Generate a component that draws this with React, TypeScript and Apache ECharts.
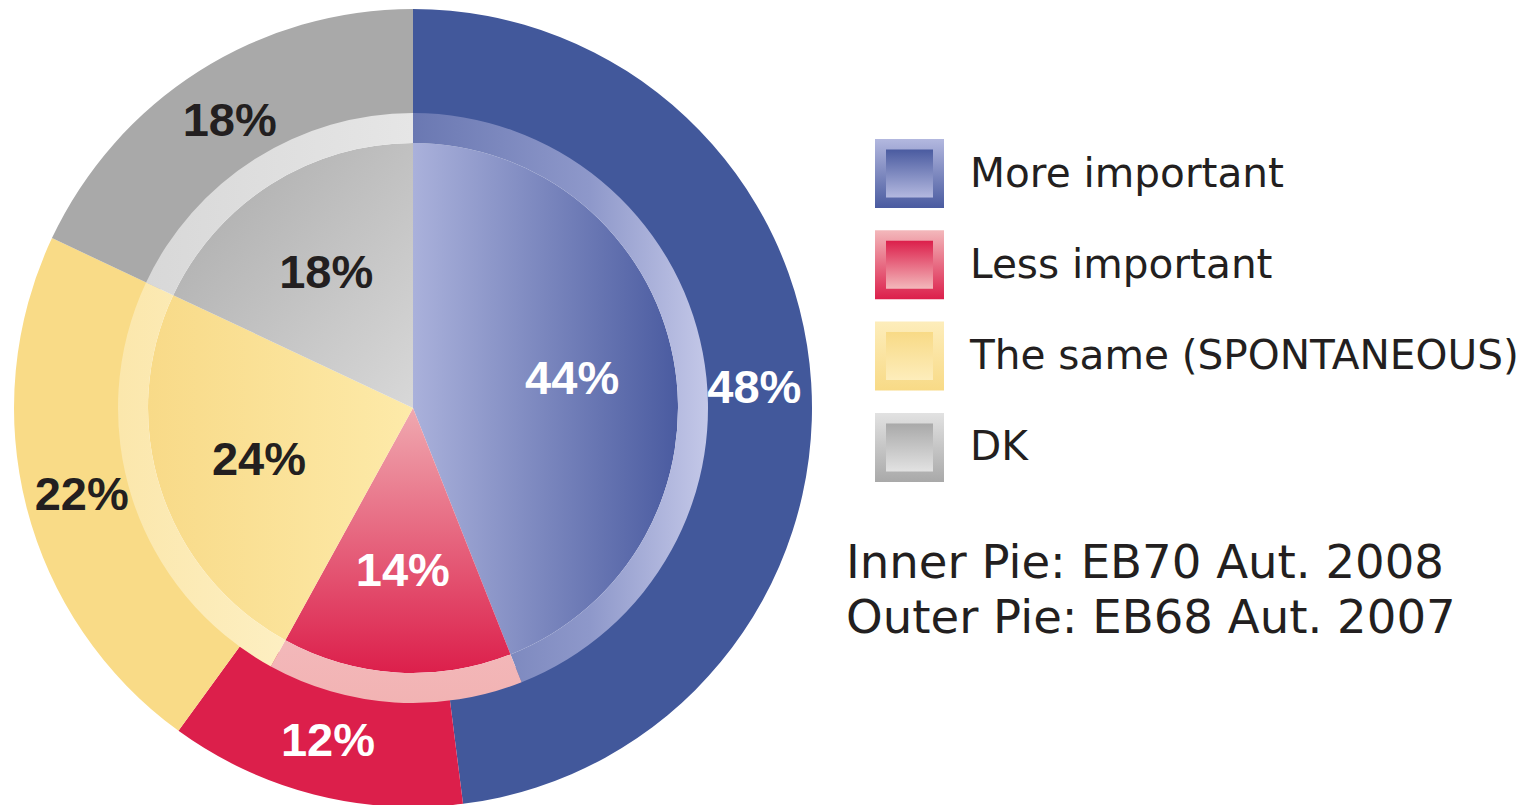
import React, { useEffect, useRef } from "react";
import * as echarts from "echarts";

const categories = ["More important", "Less important", "The same (SPONTANEOUS)", "DK"];
const innerValues = [44, 14, 24, 18]; // EB70 Aut. 2008
const outerValues = [48, 12, 22, 18]; // EB68 Aut. 2007
const noteLines = ["Inner Pie: EB70 Aut. 2008", "Outer Pie: EB68 Aut. 2007"];

const outerColors = ["#42589b", "#dc1f4b", "#f9db87", "#a9a9a9"];
const labelColors = ["#ffffff", "#ffffff", "#231f20", "#231f20"];
const innerLabelColors = ["#ffffff", "#ffffff", "#231f20", "#231f20"];

const lg = (x: number, y: number, x2: number, y2: number, stops: [number, string][]) =>
  new echarts.graphic.LinearGradient(
    x, y, x2, y2,
    stops.map(([offset, color]) => ({ offset, color }))
  );

const innerFills = [
  lg(0, 0, 1, 0, [[0, "#aab1db"], [1, "#4a5ba0"]]),
  lg(0, 0, 0, 1, [[0, "#f0a9b0"], [1, "#dc1f4b"]]),
  lg(0, 0, 1, 0, [[0, "#f8da88"], [1, "#fdeaa9"]]),
  lg(0, 0, 1, 1, [[0, "#a9a9a9"], [1, "#d8d8d8"]]),
];
const ringFills = [
  lg(0, 0, 1, 0, [[0, "#6a78b2"], [0.6, "#8e98ca"], [1, "#c4c8e8"]]),
  lg(0, 0, 0, 1, [[0, "#f3b8ba"], [1, "#f2b3b3"]]),
  lg(0, 0, 1, 0, [[0, "#fbe7ac"], [1, "#fdefc2"]]),
  lg(0, 0, 1, 0, [[0, "#d8d8d8"], [1, "#e6e6e6"]]),
];
const legendOuter = [
  ["#b3b8df", "#4a5ba0"],
  ["#f3b8bb", "#dc1f4b"],
  ["#fdedbb", "#f8da86"],
  ["#e2e2e2", "#a9a9a9"],
];

const CX = 413;
const CY = 408;

export default function App() {
  const ref = useRef<HTMLDivElement>(null);
  useEffect(() => {
    if (!ref.current) return;
    const chart = echarts.init(ref.current, null, { renderer: "svg" });
    const labelFont = {
      fontFamily: "Liberation Sans, Arial, sans-serif",
      fontWeight: "bold" as const,
      fontSize: 47,
    };
    const base = {
      type: "pie" as const,
      center: [CX, CY],
      startAngle: 90,
      clockwise: true,
      avoidLabelOverlap: false,
      silent: true,
      labelLine: { show: false },
      emphasis: { disabled: true },
    };

    const graphic: any[] = [];
    categories.forEach((name, i) => {
      const top = 139 + i * 91.3;
      graphic.push({
        type: "rect",
        shape: { x: 875, y: top, width: 69, height: 69 },
        style: { fill: lg(0, 0, 0, 1, [[0, legendOuter[i][0]], [1, legendOuter[i][1]]]) },
      });
      graphic.push({
        type: "rect",
        shape: { x: 886, y: top + 10.5, width: 47, height: 48 },
        style: { fill: lg(0, 0, 0, 1, [[0, legendOuter[i][1]], [1, legendOuter[i][0]]]) },
      });
      graphic.push({
        type: "text",
        x: 970,
        y: top + 33.5,
        style: {
          text: name,
          fill: "#231f20",
          font: "40.6px 'DejaVu Sans', Verdana, sans-serif",
          textVerticalAlign: "middle",
          textAlign: "left",
        },
      });
    });
    noteLines.forEach((t, i) => {
      graphic.push({
        type: "text",
        x: 846,
        y: 562 + i * 55,
        style: {
          text: t,
          fill: "#231f20",
          font: "46.6px 'DejaVu Sans', Verdana, sans-serif",
          textVerticalAlign: "middle",
          textAlign: "left",
        },
      });
    });

    chart.setOption({
      animation: false,
      backgroundColor: "#ffffff",
      series: [
        {
          ...base,
          name: "Outer",
          radius: [279, 399],
          label: { show: true, position: "inside", formatter: "{c}%", ...labelFont },
          data: categories.map((name, i) => ({
            name,
            value: outerValues[i],
            itemStyle: { color: outerColors[i] },
            label: { color: labelColors[i] },
          })),
        },
        {
          ...base,
          name: "InnerFill",
          radius: [0, 265],
          label: { show: false },
          data: categories.map((name, i) => ({
            name,
            value: innerValues[i],
            itemStyle: { color: innerFills[i] },
          })),
        },
        {
          ...base,
          name: "InnerRing",
          radius: [265, 295],
          label: { show: false },
          data: categories.map((name, i) => ({
            name,
            value: innerValues[i],
            itemStyle: { color: ringFills[i] },
          })),
        },
        {
          ...base,
          name: "Inner",
          radius: [53, 265],
          label: { show: true, position: "inside", formatter: "{c}%", ...labelFont },
          data: categories.map((name, i) => ({
            name,
            value: innerValues[i],
            itemStyle: { color: "rgba(0,0,0,0)" },
            label: { color: innerLabelColors[i] },
          })),
        },
      ],
      graphic,
    });
    return () => chart.dispose();
  }, []);
  return (
    <div
      ref={ref}
      style={{ position: "absolute", left: 0, top: 0, width: 1524, height: 805 }}
    />
  );
}
